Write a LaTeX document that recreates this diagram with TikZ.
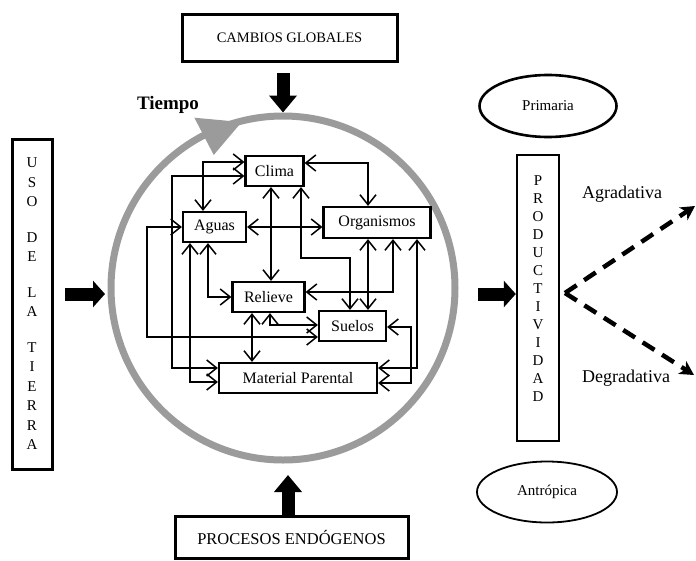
\documentclass[tikz,border=0pt]{standalone}
\usepackage{fontspec}
\setmainfont{Liberation Serif}
\usetikzlibrary{arrows.meta,shapes.geometric}
\definecolor{ringgray}{RGB}{155,155,155}
\definecolor{inkc}{RGB}{30,30,30}
\begin{document}
\begin{tikzpicture}[x=1pt,y=-1pt,
  bigbox/.style={draw, line width=3pt, inner sep=0pt},
  fbox/.style={draw, line width=2.2pt, inner sep=0pt, minimum height=30pt, font=\fontsize{16}{18}\selectfont},
  conn/.style={line width=1.5pt, >={Straight Barb[length=10pt,width=16pt]}, <->},
  blkv/.style={line width=13pt, -{Triangle[length=17pt,width=27pt]}},
  blkh/.style={line width=13pt, -{Triangle[length=12pt,width=26pt]}},
  dsh/.style={line width=4.5pt, dash pattern=on 14pt off 9pt, -{Stealth[length=14pt,width=15pt,inset=4pt]}},
  txt/.style={inner sep=0pt}
]
\useasboundingbox (0,0) rectangle (696,560);

% outer boxes
\node[bigbox, minimum width=215pt, minimum height=47pt, font=\fontsize{14.5}{16}\selectfont] (cg) at (289.5,37.5) {CAMBIOS GLOBALES};
\node[bigbox, minimum width=233pt, minimum height=42pt, font=\fontsize{16.5}{18}\selectfont] (pe) at (291.5,537) {PROCESOS ENDÓGENOS};
\node[bigbox, minimum width=40pt, minimum height=330pt, align=center, font=\fontsize{15}{19.5}\selectfont] (uso) at (32,304)
  {U\\S\\O\\[16pt]D\\E\\[16pt]L\\A\\[16pt]T\\I\\E\\R\\R\\A};
\node[draw, line width=2.4pt, minimum width=42pt, minimum height=286pt] (prod) at (538,298) {};
\node[txt, align=center, font=\fontsize{15}{18}\selectfont] (prodtxt) at (538,289)
  {P\\R\\O\\D\\U\\C\\T\\I\\V\\I\\D\\A\\D};

% ring
\node[circle, draw=ringgray, line width=7pt, minimum size=344pt, inner sep=0pt] (ring) at (283,288) {};
\fill[ringgray] ([shift={(-104:171)}]ring.center) -- ([shift={(-117.5:192)}]ring.center) -- ([shift={(-117.5:150)}]ring.center) -- cycle;
\node[txt, font=\bfseries\fontsize{19}{21}\selectfont] (tiempo) at (168,105) {Tiempo};

% inner boxes
\node[fbox, minimum width=58pt] (clima) at (274.5,171) {Clima};
\node[fbox, minimum width=63pt] (aguas) at (214.5,227) {Aguas};
\node[fbox, minimum width=107pt, minimum height=31pt] (org) at (377,222.5) {Organismos};
\node[fbox, minimum width=72pt] (rel) at (268.5,297) {Relieve};
\node[fbox, minimum width=67pt] (sue) at (352.5,326) {Suelos};
\node[fbox, minimum width=158pt] (mat) at (298,378) {Material Parental};

% connectors
\draw[conn] (aguas.north -| 203,0) |- (clima.west |- 0,162);
\draw[conn] (clima.west |- 0,176) -| (172,368) -- (mat.west |- 0,368);
\draw[conn] (aguas.west) -| (147,337) -- (sue.west |- 0,337);
\draw[conn] (aguas.south -| 190,0) |- (mat.west |- 0,382);
\draw[conn] (aguas.south -| 208,0) |- (rel.west);
\draw[conn] (aguas.east) -- (org.west |- 0,227);
\draw[conn] (clima.south -| 271,0) -- (rel.north -| 271,0);
\draw[conn] (clima.south -| 301,0) |- (350,258) -- (sue.north -| 350,0);
\draw[conn] (org.south -| 368,0) -- (sue.north -| 368,0);
\draw[conn] (org.south -| 393,0) |- (rel.east |- 0,292);
\draw[conn] (org.south -| 417,0) |- (mat.east |- 0,368);
\draw[conn] (sue.east |- 0,327) -| (411,383) -- (mat.east |- 0,383);
\draw[conn] (rel.south -| 252,0) -- (mat.north -| 252,0);
\draw[conn] (rel.south -| 270,0) |- (sue.west |- 0,325);
\draw[conn] (clima.east |- 0,163) -| (org.north -| 368,0);

% block arrows
\coordinate (cgA) at (283,73);
\draw[blkv] (cgA) -- (ring.north);
\coordinate (peA) at (288,515);
\coordinate (peB) at (288,475);
\draw[blkv] (peA) -- (peB);
\coordinate (usoA) at (65,294);
\coordinate (usoB) at (105,294);
\draw[blkh] (usoA) -- (usoB);
\coordinate (prA) at (478,294);
\draw[blkh] (prA) -- (prod.west |- 0,294);

% ellipses
\node[ellipse, draw, line width=2.6pt, minimum width=137pt, minimum height=62pt, font=\fontsize{15}{16}\selectfont] (prim) at (548,106) {Primaria};
\node[ellipse, draw, line width=1.8pt, minimum width=140pt, minimum height=61pt, font=\fontsize{15}{16}\selectfont] (antr) at (547,492) {Antrópica};

% dashed fork
\coordinate (fork) at (565,293);
\coordinate (agtip) at (695,206);
\coordinate (degtip) at (694,375);
\draw[dsh] (fork) -- (agtip);
\draw[dsh] (fork) -- (degtip);
\node[txt, font=\fontsize{18}{19}\selectfont] (agr) at (622,194) {Agradativa};
\node[txt, font=\fontsize{18}{19}\selectfont] (degr) at (626,378) {Degradativa};
\end{tikzpicture}
\end{document}
